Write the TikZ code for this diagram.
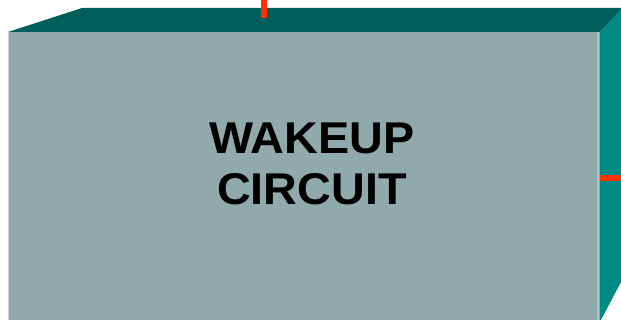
\documentclass[tikz,border=0pt]{standalone}
\usepackage{fontspec}
\setmainfont{Liberation Sans}
\definecolor{frontc}{HTML}{8FA9AC}
\definecolor{topc}{HTML}{005F5A}
\definecolor{sidec}{HTML}{008A85}
\definecolor{edgec}{HTML}{A9C6C6}
\definecolor{redc}{HTML}{FF3300}
\tikzset{
  face/.style={draw=none},
  redline/.style={draw=redc, line width=6pt},
  lbl/.style={font=\bfseries\fontsize{44.5}{51}\selectfont, align=center, text=black, inner sep=0pt, xscale=1.05, transform shape}
}
\begin{document}
\begin{tikzpicture}[x=1pt,y=1pt]
\useasboundingbox (0,0) rectangle (621,320);
% top face
\fill[topc] (8,288) -- (82,312) -- (621,312) -- (621,310) -- (600,288) -- cycle;
% right face
\fill[sidec] (600,288) -- (621,310) -- (621,38) -- (601,0) -- (600,0) -- cycle;
% front face
\fill[frontc] (8,0) rectangle (600,288);
\draw[edgec, line width=2.5pt] (598,0) -- (598,288);
\draw[edgec!70!white, line width=0.8pt] (8.4,0) -- (8.4,288);
% red stubs
\coordinate (t0) at (264,320);
\coordinate (t1) at (264,302);
\coordinate (r0) at (600,142);
\coordinate (r1) at (621,142);
\draw[redline] (t0) -- (t1);
\draw[redline] (r0) -- (r1);
\node[lbl] (label) at (312,156) {WAKEUP\\CIRCUIT};
\end{tikzpicture}
\end{document}
